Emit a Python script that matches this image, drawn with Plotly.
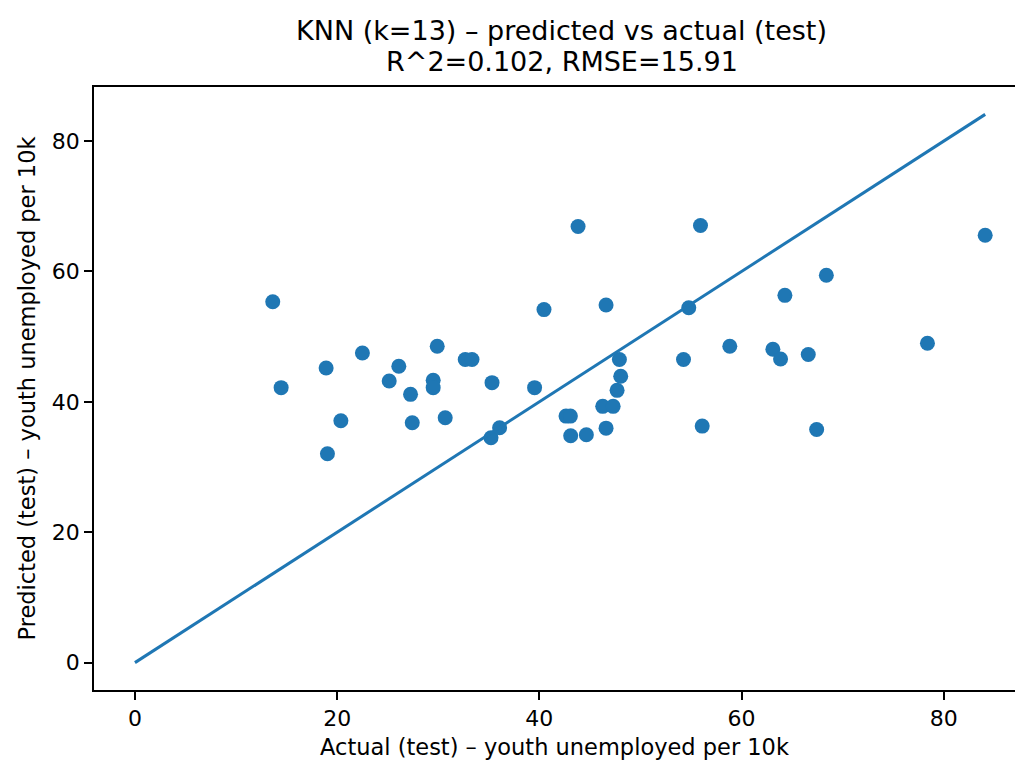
import plotly.graph_objects as go

actual = [13.63, 14.46, 18.91, 19.04, 20.37, 22.5, 25.15, 26.1, 27.26, 27.43,
          29.5, 29.5, 29.9, 30.69, 32.67, 33.34, 35.32, 35.22, 36.07, 39.53,
          40.46, 42.64, 43.07, 43.1, 43.83, 44.65, 46.27, 46.6, 46.6, 47.3,
          47.69, 48.05, 47.92, 54.26, 54.78, 55.94, 56.11, 58.84, 63.1, 63.86,
          64.29, 66.6, 67.43, 68.39, 78.39, 84.1]
predicted = [55.35, 42.18, 45.2, 32.03, 37.1, 47.5, 43.2, 45.46, 41.15, 36.8,
             43.3, 42.18, 48.54, 37.57, 46.49, 46.49, 42.95, 34.49, 36.03, 42.18,
             54.15, 37.82, 37.82, 34.8, 66.89, 34.95, 39.31, 35.97, 54.85, 39.31,
             41.77, 43.92, 46.49, 46.49, 54.43, 67.05, 36.28, 48.54, 48.08, 46.57,
             56.34, 47.26, 35.77, 59.42, 49.0, 65.57]
line_lims = [0, 84.1]
tick_vals = [0, 20, 40, 60, 80]

title_lines = ["KNN (k=13) – predicted vs actual (test)", "R^2=0.102, RMSE=15.91"]
x_label = "Actual (test) – youth unemployed per 10k"
y_label = "Predicted (test) – youth unemployed per 10k"

blue = "#1f77b4"
font_family = "DejaVu Sans"

fig = go.Figure()
fig.add_trace(go.Scatter(x=actual, y=predicted, mode="markers",
                         marker=dict(size=15, color=blue, line=dict(width=0)),
                         showlegend=False))
fig.add_trace(go.Scatter(x=line_lims, y=line_lims, mode="lines",
                         line=dict(color=blue, width=3), showlegend=False))

axis_common = dict(
    showgrid=False, zeroline=False, showline=True, linecolor="black", linewidth=1.8,
    ticks="outside", ticklen=8, tickwidth=1.8, tickcolor="black",
    tickfont=dict(family=font_family, size=22, color="black"),
    tickvals=tick_vals,
)

title_y = [1.0945, 1.0415]
for txt, yy in zip(title_lines, title_y):
    fig.add_annotation(text=txt, xref="paper", yref="paper", x=0.508, y=yy,
                       xanchor="center", yanchor="middle", showarrow=False,
                       font=dict(family=font_family, size=27, color="black"))

fig.update_layout(
    width=1015, height=760,
    margin=dict(l=94, r=0, t=87, b=70),
    paper_bgcolor="white", plot_bgcolor="white",
    font=dict(family=font_family, color="black"),
    xaxis=dict(range=[-4.05, 87.05], mirror=True,
               title=dict(text=x_label, standoff=12,
                          font=dict(family=font_family, size=22.5, color="black")),
               **axis_common),
    yaxis=dict(range=[-4.2, 88.3], mirror=False,
               title=dict(text=y_label, standoff=10,
                          font=dict(family=font_family, size=22.5, color="black")),
               **axis_common),
)

fig.write_html("out.html")
